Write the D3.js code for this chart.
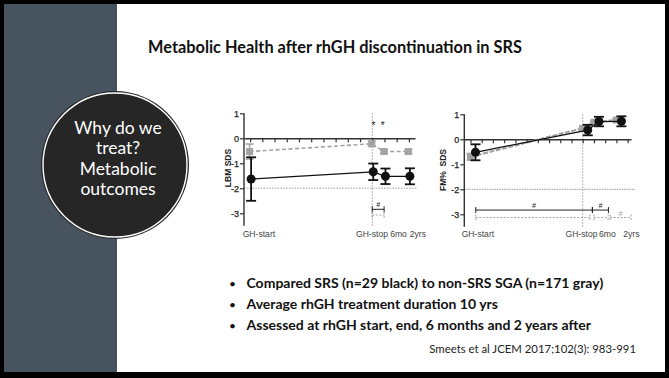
<!DOCTYPE html>
<html>
<head>
<meta charset="utf-8">
<script src="https://cdn.jsdelivr.net/npm/d3@7/dist/d3.min.js"></script>
<style>
  html, body { margin: 0; padding: 0; background: #fff; }
  svg { display: block; }
</style>
</head>
<body>
<svg id="slide" width="669" height="378"></svg>
<script>
// ---- data ----
const timepoints = ["GH-start", "GH-stop", "6mo", "2yrs"];
const timeYears = [0, 10, 11, 13];

// Lean body mass SDS (mean and error)
const lbmSRS = [-1.63, -1.34, -1.52, -1.52];
const lbmSRSErr = [0.87, 0.33, 0.31, 0.32];
const lbmSGA = [-0.53, -0.22, -0.53, -0.53];
const lbmSGAErr = [0.3, 0.1, 0.08, 0.08];

// Fat mass percentage SDS (mean and error)
const fmSRS = [-0.52, 0.37, 0.71, 0.72];
const fmSRSErr = [0.32, 0.21, 0.19, 0.2];
const fmSGA = [-0.7, 0.44, 0.68, 0.77];
const fmSGAErr = [0.13, 0.05, 0.05, 0.05];

const yTicks = [1, 0, -1, -2, -3];

// significance brackets: [from, to, label]
const lbmBracketsSRS = [[10, 10.97, "#"]];
const lbmBracketsSGA = [[10, 10.97, ""]];
const fmBracketsSRS = [[0.47, 10.86, "#"], [10.86, 12.29, "#"]];
const fmBracketsSGA = [[0.47, 10.65, ""], [11.0, 12.26, ""], [12.44, 14.3, "#"]];

const bullets = [
  "Compared SRS (n=29 black) to non-SRS SGA (n=171 gray)",
  "Average rhGH treatment duration 10 yrs",
  "Assessed at rhGH start, end, 6 months and 2 years after"
];

const svg = d3.select("#slide");
const W = 669, H = 378;

// scale a text element's font size so its rendered width equals target
function fitWidth(sel, target) {
  const fs = parseFloat(sel.attr("font-size"));
  const w = sel.node().getComputedTextLength();
  sel.attr("font-size", (fs * target / w).toFixed(2));
}

// ---- slide frame ----
svg.append("rect").attr("width", W).attr("height", H).attr("fill", "#000");
svg.append("rect").attr("x", 4).attr("y", 4).attr("width", W - 8).attr("height", H - 10).attr("fill", "#fff");
svg.append("rect").attr("x", 4).attr("y", 4).attr("width", 113).attr("height", H - 10).attr("fill", "#47535f");

// ---- title ----
const title = svg.append("text")
  .attr("x", 335).attr("y", 53)
  .attr("text-anchor", "middle")
  .attr("font-family", "Lato, 'Open Sans', sans-serif")
  .attr("font-weight", "bold")
  .attr("font-size", 18)
  .attr("fill", "#111")
  .text("Metabolic Health after rhGH discontinuation in SRS");
fitWidth(title, 374);

// ---- section badge ----
const cx = 115, cy = 165;
svg.append("circle").attr("cx", cx).attr("cy", cy).attr("r", 74)
  .attr("fill", "#262626");
svg.append("circle").attr("cx", cx).attr("cy", cy).attr("r", 72)
  .attr("fill", "none").attr("stroke", "#fff").attr("stroke-width", 1.4);
const badgeLines = ["Why do we", "treat?", "Metabolic", "outcomes"];
svg.append("g").selectAll("text").data(badgeLines).join("text")
  .attr("x", 118).attr("y", (d, i) => 134 + i * 20.3)
  .attr("text-anchor", "middle")
  .attr("font-family", "Lato, 'Open Sans', sans-serif")
  .attr("font-size", 17.5)
  .attr("fill", "#fff")
  .text(d => d);

// ---- chart helper ----
function drawChart(cfg) {
  const g = svg.append("g");
  const x = d3.scaleLinear().domain(cfg.xDomain).range(cfg.xRange);
  const y = d3.scaleLinear().domain([-3.5, 1]).range(cfg.yRange);
  const font = "'Liberation Sans', Arial, sans-serif";

  // reference lines
  g.append("line")
    .attr("x1", x.range()[0]).attr("x2", x.range()[1] + cfg.refExtra)
    .attr("y1", y(-2)).attr("y2", y(-2))
    .attr("stroke", cfg.refColor).attr("stroke-width", cfg.refWidth)
    .attr("stroke-dasharray", cfg.refDash);
  g.append("line")
    .attr("x1", x(timeYears[1])).attr("x2", x(timeYears[1]))
    .attr("y1", y(1)).attr("y2", y(-3.5))
    .attr("stroke", "#9a9a9a").attr("stroke-width", 1)
    .attr("stroke-dasharray", "1.5,1.5");

  // y axis
  const yAxis = g.append("g")
    .attr("transform", `translate(${x.range()[0]},0)`)
    .call(d3.axisLeft(y).tickValues(yTicks).tickSize(4).tickSizeOuter(0)
      .tickFormat(d => String(d)));
  yAxis.select(".domain").attr("stroke", "#333").attr("stroke-width", 1.4)
    .attr("d", `M0,${y(1)}V${y(-3.5)}`);
  yAxis.selectAll(".tick line").attr("stroke", "#333").attr("stroke-width", 1.2);
  yAxis.selectAll(".tick text").attr("font-family", font).attr("font-size", 9)
    .attr("fill", "#222").attr("x", -5).attr("stroke", "#222").attr("stroke-width", 0.25);

  // x axis along zero
  const xAxis = g.append("g")
    .attr("transform", `translate(0,${y(0)})`)
    .call(d3.axisBottom(x).tickValues(cfg.ticks).tickSize(4).tickSizeOuter(0).tickFormat(""));
  xAxis.select(".domain").attr("stroke", "#333").attr("stroke-width", 1.4);
  xAxis.selectAll(".tick line").attr("stroke", "#333").attr("stroke-width", 1.2);

  // axis title
  g.append("text")
    .attr("transform", `translate(${cfg.titleX},${cfg.titleY}) rotate(-90)`)
    .attr("text-anchor", "middle")
    .attr("font-family", font).attr("font-weight", "bold").attr("font-size", 8.5)
    .attr("fill", "#222")
    .style("white-space", "pre")
    .text(cfg.yTitle);

  // category labels
  g.append("g").selectAll("text").data(timepoints).join("text")
    .attr("x", (d, i) => cfg.labelX[i][0])
    .attr("y", 236.5)
    .attr("text-anchor", (d, i) => cfg.labelX[i][1])
    .attr("font-family", font).attr("font-size", 8.6).attr("fill", "#444")
    .text(d => d);

  // series
  function series(vals, errs, opts) {
    const pts = vals.map((v, i) => ({ t: timeYears[i], v, e: errs[i] }));
    const px = d => x(d.t) + opts.dodge;
    g.append("path").datum(pts)
      .attr("fill", "none").attr("stroke", opts.color)
      .attr("stroke-width", opts.lineWidth)
      .attr("stroke-dasharray", opts.dash)
      .attr("d", d3.line().x(px).y(d => y(d.v)));
    const eb = g.append("g").selectAll("g").data(pts).join("g")
      .attr("stroke", opts.color).attr("stroke-width", opts.barWidth);
    eb.append("line").attr("x1", px).attr("x2", px)
      .attr("y1", d => y(d.v + d.e)).attr("y2", d => y(d.v - d.e));
    eb.append("line").attr("x1", d => px(d) - opts.cap).attr("x2", d => px(d) + opts.cap)
      .attr("y1", d => y(d.v + d.e)).attr("y2", d => y(d.v + d.e));
    eb.append("line").attr("x1", d => px(d) - opts.cap).attr("x2", d => px(d) + opts.cap)
      .attr("y1", d => y(d.v - d.e)).attr("y2", d => y(d.v - d.e));
    if (opts.shape === "square") {
      g.append("g").selectAll("rect").data(pts).join("rect")
        .attr("x", d => px(d) - 3.5).attr("y", d => y(d.v) - 3.5)
        .attr("width", 7).attr("height", 7).attr("fill", opts.color);
    } else {
      g.append("g").selectAll("circle").data(pts).join("circle")
        .attr("cx", px).attr("cy", d => y(d.v)).attr("r", 4.5)
        .attr("fill", opts.color);
    }
  }
  series(cfg.gray, cfg.grayErr, { color: "#a3a3a3", dodge: cfg.grayDodge, lineWidth: cfg.grayLine,
    dash: cfg.grayDash, barWidth: 1.6, cap: 4, shape: "square" });
  series(cfg.black, cfg.blackErr, { color: "#111", dodge: cfg.blackDodge, lineWidth: 1.3,
    dash: null, barWidth: 1.8, cap: 5, shape: "circle" });

  // significance brackets
  function brackets(list, yv, color, dash) {
    const b = g.append("g").selectAll("g").data(list).join("g");
    b.append("path")
      .attr("fill", "none").attr("stroke", color).attr("stroke-width", 1)
      .attr("stroke-dasharray", dash)
      .attr("d", d => `M${x(d[0])},${y(yv) - 3}V${y(yv) + 3}M${x(d[0])},${y(yv)}H${x(d[1])}M${x(d[1])},${y(yv) - 3}V${y(yv) + 3}`);
    b.append("text")
      .attr("x", d => x((d[0] + d[1]) / 2)).attr("y", y(yv) - 2)
      .attr("text-anchor", "middle")
      .attr("font-family", font).attr("font-size", 7).attr("font-style", "italic")
      .attr("fill", color)
      .text(d => d[2]);
  }
  brackets(cfg.bracketsBlack, cfg.bracketBlackY, "#222", null);
  brackets(cfg.bracketsGray, cfg.bracketGrayY, "#a0a0a0", "2,1.5");

  // asterisks
  if (cfg.stars) {
    g.append("g").selectAll("text").data(cfg.stars).join("text")
      .attr("x", d => x(d)).attr("y", y(0.53) + 4)
      .attr("text-anchor", "middle")
      .attr("font-family", font).attr("font-size", 10).attr("fill", "#222")
      .text("*");
  }
}

drawChart({
  xDomain: [-0.5, 13.5], xRange: [244, 415],
  yRange: [225.8, 113.3],
  ticks: d3.range(0, 14),
  yTitle: "LBM SDS", titleX: 231, titleY: 168,
  labelX: [[242.7, "start"], [388, "end"], [398.5, "middle"], [426, "end"]],
  black: lbmSRS, blackErr: lbmSRSErr, gray: lbmSGA, grayErr: lbmSGAErr,
  blackDodge: 1, grayDodge: -0.5, grayLine: 1.6, grayDash: "4,2.5",
  refColor: "#c4c4c4", refWidth: 1.6, refDash: "1.6,1.2", refExtra: 2,
  bracketsBlack: lbmBracketsSRS, bracketBlackY: -2.84,
  bracketsGray: lbmBracketsSGA, bracketGrayY: -3.07,
  stars: [10.1, 10.85]
});

drawChart({
  xDomain: [-0.55, 14.3], xRange: [464.3, 631],
  yRange: [226.8, 114.3],
  ticks: d3.range(0, 15),
  yTitle: "FM%  SDS", titleX: 446, titleY: 170,
  labelX: [[461.7, "start"], [597.5, "end"], [607.3, "middle"], [639.5, "end"]],
  black: fmSRS, blackErr: fmSRSErr, gray: fmSGA, grayErr: fmSGAErr,
  blackDodge: 5, grayDodge: 0, grayLine: 2.2, grayDash: "5,1.5",
  refColor: "#777", refWidth: 0.8, refDash: "1.5,1", refExtra: 4,
  bracketsBlack: fmBracketsSRS, bracketBlackY: -2.83,
  bracketsGray: fmBracketsSGA, bracketGrayY: -3.13,
  stars: null
});

// ---- bullets ----
const bl = svg.append("g");
const bulletText = bullets.map((t, i) => {
  const yy = 288 + i * 21;
  bl.append("text").attr("x", 229).attr("y", yy)
    .attr("font-family", "Lato, sans-serif").attr("font-size", 12).attr("fill", "#111")
    .text("•");
  return bl.append("text").attr("x", 246.5).attr("y", yy)
    .attr("font-family", "Lato, 'Open Sans', sans-serif")
    .attr("font-weight", "bold").attr("font-size", 13).attr("fill", "#111")
    .text(t);
});
fitWidth(bulletText[0], 357);
bulletText.forEach(s => s.attr("font-size", bulletText[0].attr("font-size")));

const cite = svg.append("text")
  .attr("x", 429.3).attr("y", 353)
  .attr("font-family", "Lato, 'Open Sans', sans-serif")
  .attr("font-size", 11).attr("fill", "#222")
  .text("Smeets et al JCEM 2017;102(3): 983-991");
fitWidth(cite, 207);
</script>
</body>
</html>
